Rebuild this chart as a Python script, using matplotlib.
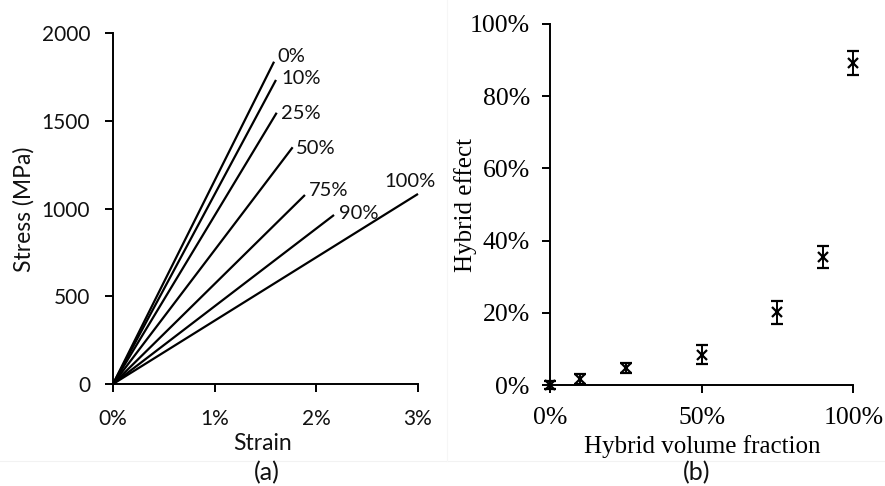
import matplotlib
matplotlib.use("Agg")
import matplotlib.pyplot as plt
from matplotlib.ticker import FuncFormatter
from matplotlib.lines import Line2D

# ---- data ----
labels_a = ["0%", "10%", "25%", "50%", "75%", "90%", "100%"]
fail_strain = [0.01584, 0.01603, 0.01610, 0.01767, 0.01888, 0.02174, 0.0300]
fail_stress = [1838, 1734, 1547, 1350, 1078, 964, 1084]

hyb_frac = [0.0, 0.10, 0.25, 0.50, 0.75, 0.90, 1.00]
hyb_effect = [0.0, 0.017, 0.047, 0.084, 0.201, 0.354, 0.891]
hyb_err = [0.012, 0.013, 0.015, 0.026, 0.032, 0.031, 0.033]

xticks_a = [0, 0.01, 0.02, 0.03]
yticks_a = [0, 500, 1000, 1500, 2000]
xticks_b = [0, 0.5, 1.0]
yticks_b = [0, 0.2, 0.4, 0.6, 0.8, 1.0]

# label offsets (pixels) for the curve labels in panel (a)
label_offsets = [(3, 0), (5, -4), (4, -6.5), (3.5, -6.5), (3.5, -1.5), (4.5, -4), (-8.5, 6.5)]

W, H = 885, 486
fig = plt.figure(figsize=(W / 100, H / 100), dpi=100)

sans = ["Lato", "DejaVu Sans"]
serif = ["Liberation Serif", "DejaVu Serif"]
pct = FuncFormatter(lambda v, p: f"{v*100:.0f}%")

# faint image-boundary lines
fig.add_artist(Line2D([0, 1], [1 - 461 / H, 1 - 461 / H], transform=fig.transFigure,
                      color="#f2f2f2", lw=0.8))
fig.add_artist(Line2D([447 / W, 447 / W], [1 - 461 / H, 1], transform=fig.transFigure,
                      color="#f6f6f6", lw=0.8))

# ---- panel (a) ----
axa = fig.add_axes([113 / W, 1 - 384 / H, 305 / W, (384 - 33.3) / H])
for lab, sx, sy, off in zip(labels_a, fail_strain, fail_stress, label_offsets):
    axa.plot([0, sx], [0, sy], color="black", lw=1.6, solid_capstyle="butt", clip_on=False)
    ha = "center" if lab == "100%" else "left"
    axa.annotate(lab, (sx, sy), xytext=off, textcoords="offset pixels",
                 ha=ha, va="baseline", fontsize=14.5, family=sans, color="#111111")
axa.set_xlim(0, 0.03)
axa.set_ylim(0, 2000)
axa.set_xticks(xticks_a)
axa.set_yticks(yticks_a)
axa.xaxis.set_major_formatter(pct)
for s in ["top", "right"]:
    axa.spines[s].set_visible(False)
for s in ["left", "bottom"]:
    axa.spines[s].set_linewidth(1.4)
axa.tick_params(direction="out", length=5.5, width=1.4, labelsize=15, colors="black")
axa.tick_params(axis="x", pad=12.5)
axa.tick_params(axis="y", pad=11)
for t in axa.get_xticklabels() + axa.get_yticklabels():
    t.set_family(sans)
    t.set_color("#111111")
axa.set_xlabel("Strain", fontsize=16.5, family=sans, va="baseline", color="#111111")
axa.xaxis.set_label_coords(0.492, -0.188)
axa.set_ylabel("Stress (MPa)", fontsize=16.5, family=sans, va="baseline", color="#111111")
axa.yaxis.set_label_coords(-0.269, 0.4976)
fig.text(267 / W, 1 - 473 / H, "(a)", ha="center", va="center", fontsize=18, family=sans,
         color="#111111")

# ---- panel (b) ----
axb = fig.add_axes([550 / W, 1 - 385 / H, 303.3 / W, 361 / H])
axb.errorbar(hyb_frac, hyb_effect, yerr=hyb_err, fmt="x", color="black",
             ms=7.5, mew=1.6, elinewidth=1.4, capsize=4, capthick=1.4, clip_on=False)
axb.set_xlim(0, 1)
axb.set_ylim(0, 1)
axb.set_xticks(xticks_b)
axb.set_yticks(yticks_b)
axb.xaxis.set_major_formatter(pct)
axb.yaxis.set_major_formatter(pct)
for s in ["top", "right"]:
    axb.spines[s].set_visible(False)
for s in ["left", "bottom"]:
    axb.spines[s].set_linewidth(1.4)
axb.tick_params(direction="out", length=5.5, width=1.4, labelsize=18.5)
axb.tick_params(axis="x", pad=10)
axb.tick_params(axis="y", pad=9)
for t in axb.get_xticklabels() + axb.get_yticklabels():
    t.set_family(serif)
axb.set_xlabel("Hybrid volume fraction", fontsize=18, family=serif, va="baseline")
axb.xaxis.set_label_coords(0.501, -0.188)
axb.set_ylabel("Hybrid effect", fontsize=18, family=serif, va="baseline")
axb.yaxis.set_label_coords(-0.257, 0.4986)
fig.text(697 / W, 1 - 473 / H, "(b)", ha="center", va="center", fontsize=18, family=sans,
         color="#111111")

fig.savefig("out.png", dpi=100)
